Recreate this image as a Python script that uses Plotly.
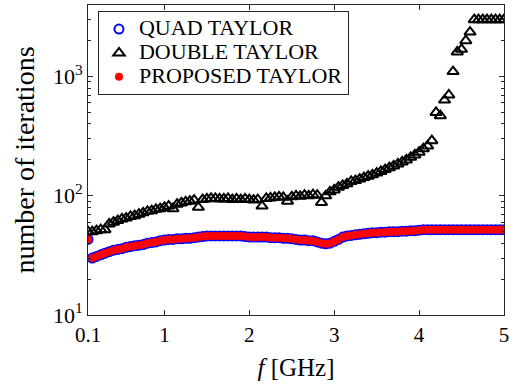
import plotly.graph_objects as go

freq_ghz = [0.10, 0.15, 0.20, 0.25, 0.30, 0.35, 0.40, 0.45, 0.50, 0.55,
            0.60, 0.65, 0.70, 0.75, 0.80, 0.85, 0.90, 0.95, 1.00, 1.05,
            1.10, 1.15, 1.20, 1.25, 1.30, 1.35, 1.40, 1.45, 1.50, 1.55,
            1.60, 1.65, 1.70, 1.75, 1.80, 1.85, 1.90, 1.95, 2.00, 2.05,
            2.10, 2.15, 2.20, 2.25, 2.30, 2.35, 2.40, 2.45, 2.50, 2.55,
            2.60, 2.65, 2.70, 2.75, 2.80, 2.85, 2.90, 2.95, 3.00, 3.05,
            3.10, 3.15, 3.20, 3.25, 3.30, 3.35, 3.40, 3.45, 3.50, 3.55,
            3.60, 3.65, 3.70, 3.75, 3.80, 3.85, 3.90, 3.95, 4.00, 4.05,
            4.10, 4.15, 4.20, 4.25, 4.30, 4.35, 4.40, 4.45, 4.50, 4.55,
            4.60, 4.65, 4.70, 4.75, 4.80, 4.85, 4.90, 4.95, 5.00]

quad_taylor = [43, 30, 31, 32, 33, 34, 35, 35.5, 36, 37,
               37.5, 38, 38.5, 39, 40, 40.5, 41, 42, 42.5, 43,
               43, 43.5, 43.5, 44, 44, 44.5, 45, 45.5, 46, 46,
               46, 46, 46, 46, 46, 46, 46, 45.5, 45, 45,
               45, 45, 45, 44.5, 44.5, 44.5, 44, 44, 43.5, 43,
               42.5, 42.5, 42, 42, 41, 40, 39.5, 40, 41.5, 43,
               45, 46, 46.5, 47, 47.5, 48, 48.5, 49, 49, 49.5,
               49.5, 50, 50, 50, 50.5, 50.5, 51, 51, 51.5, 52,
               52, 52, 52, 52, 52, 52, 52, 52, 52, 52,
               52, 52, 52, 52, 52, 52, 52, 52, 52]

double_taylor = [50, 50, 51, 52, 52, 58, 60, 62, 64, 65,
                 67, 68, 70, 72, 74, 75, 77, 78, 80, 82,
                 78, 85, 87, 89, 90, 92, 80, 93, 94, 95,
                 95, 94, 94, 95, 93, 94, 93, 94, 93, 92,
                 93, 82, 95, 96, 97, 98, 97, 90, 98, 100,
                 99, 101, 100, 102, 101, 88, 100, 108, 112, 118,
                 122, 126, 132, 134, 138, 142, 146, 150, 155, 160,
                 166, 172, 178, 185, 192, 200, 210, 220, 232, 248,
                 262, 290, 500, 470, 635, 700, 1100, 1610, 1690, 2000,
                 2360, 3000, 3000, 3000, 3000, 3000, 3000, 3000, 3000]

proposed_taylor = [43, 30, 31, 32, 33, 34, 35, 35.5, 36, 37,
                   37.5, 38, 38.5, 39, 40, 40.5, 41, 42, 42.5, 43,
                   43, 43.5, 43.5, 44, 44, 44.5, 45, 45.5, 46, 46,
                   46, 46, 46, 46, 46, 46, 46, 45.5, 45, 45,
                   45, 45, 45, 44.5, 44.5, 44.5, 44, 44, 43.5, 43,
                   42.5, 42.5, 42, 42, 41, 40, 39.5, 40, 41.5, 43,
                   45, 46, 46.5, 47, 47.5, 48, 48.5, 49, 49, 49.5,
                   49.5, 50, 50, 50, 50.5, 50.5, 51, 51, 51.5, 52,
                   52, 52, 52, 52, 52, 52, 52, 52, 52, 52,
                   52, 52, 52, 52, 52, 52, 52, 52, 52]

series_names = ["QUAD TAYLOR", "DOUBLE TAYLOR", "PROPOSED TAYLOR"]
x_tick_vals = [0.1, 1, 2, 3, 4, 5]
x_tick_text = ["0.1", "1", "2", "3", "4", "5"]
y_tick_vals = [10, 100, 1000]
y_tick_text = ["10<sup>1</sup>", "10<sup>2</sup>", "10<sup>3</sup>"]
y_minor_vals = [2, 3, 4, 5, 6, 7, 8, 9, 20, 30, 40, 50, 60, 70, 80, 90,
                200, 300, 400, 500, 600, 700, 800, 900, 2000, 3000]

FONT = "'Liberation Serif', 'DejaVu Serif', serif"
AX = "#262626"


def leg(name):
    return '<span style="font-size:22px">' + name + '</span>'


fig = go.Figure()
fig.add_trace(go.Scatter(
    x=freq_ghz, y=quad_taylor, mode="markers", name=leg(series_names[0]),
    marker=dict(symbol="circle-open", size=9, color="#0000ff",
                line=dict(width=2, color="#0000ff"))))
fig.add_trace(go.Scatter(
    x=freq_ghz, y=double_taylor, mode="markers", name=leg(series_names[1]),
    marker=dict(symbol="triangle-up-open", size=10, color="black",
                line=dict(width=2, color="black"))))
fig.add_trace(go.Scatter(
    x=freq_ghz, y=proposed_taylor, mode="markers", name=leg(series_names[2]),
    marker=dict(symbol="circle", size=8, color="#ff0000",
                line=dict(width=0))))

fig.update_layout(
    width=525, height=385,
    margin=dict(l=88, r=21, t=5, b=70, autoexpand=False),
    paper_bgcolor="white", plot_bgcolor="white",
    font=dict(family=FONT, size=21, color="black"),
    showlegend=True,
    legend=dict(x=0.024, y=0.98, xanchor="left", yanchor="top",
                bgcolor="white", bordercolor=AX, borderwidth=1,
                font=dict(family=FONT, size=16, color="black")),
    xaxis=dict(
        range=[0.1, 5], tickmode="array", tickvals=x_tick_vals,
        ticktext=x_tick_text, ticks="inside", ticklen=5, tickcolor=AX,
        showline=True, linecolor=AX, linewidth=1, mirror="ticks",
        showgrid=False, zeroline=False, automargin=False,
        ticklabelstandoff=1,
        title=dict(text="<i>f</i> [GHz]", font=dict(size=25), standoff=12)),
    yaxis=dict(
        type="log", range=[1, 3.6], tickmode="array", tickvals=y_tick_vals,
        ticktext=y_tick_text, ticks="inside", ticklen=5, tickcolor=AX,
        tickfont=dict(size=22),
        showline=True, linecolor=AX, linewidth=1, mirror="ticks",
        showgrid=False, zeroline=False, automargin=False,
        minor=dict(tickmode="array", tickvals=y_minor_vals, ticks="inside",
                   ticklen=3, tickcolor=AX, showgrid=False),
        title=dict(text="number of iterations", font=dict(size=28), standoff=10)),
)

fig.write_html("out.html", config={"displayModeBar": False},
               post_script="document.body.style.margin='0px';")
